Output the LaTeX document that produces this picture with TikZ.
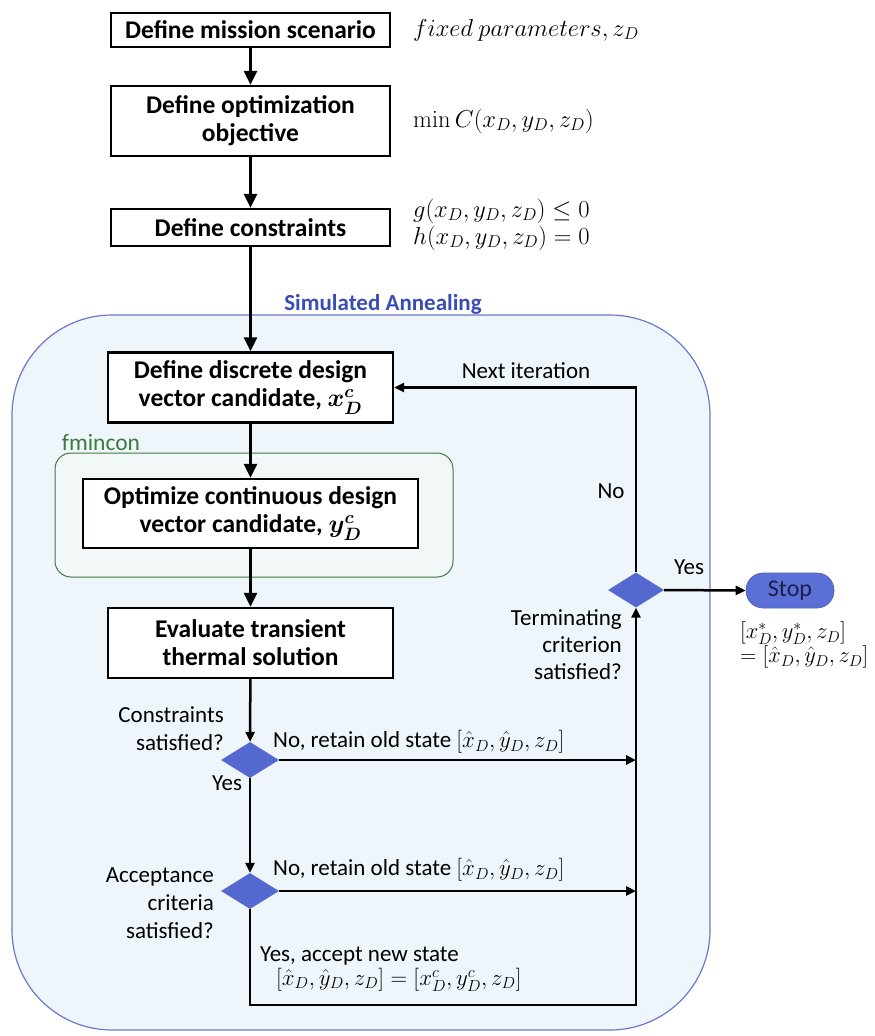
\documentclass[tikz,border=0pt]{standalone}
\usepackage{fix-cm}
\usepackage[no-math]{fontspec}
\setmainfont{Carlito}
\usetikzlibrary{arrows.meta,shapes.geometric}

\definecolor{bgblue}{HTML}{EEF6FB}
\definecolor{frameblue}{HTML}{6E78C8}
\definecolor{annealblue}{HTML}{3A4DB5}
\definecolor{fmgreen}{HTML}{3E7A3E}
\definecolor{fmfill}{HTML}{F2F8F7}
\definecolor{diafill}{HTML}{5468CF}
\definecolor{stopfill}{HTML}{5B6FD6}
\definecolor{stoptext}{HTML}{1B1F4A}

\tikzset{
  flowbox/.style={draw=black, line width=2.4pt, fill=white, align=center,
    inner sep=0pt, font=\bfseries\boldmath\fontsize{25.5}{28}\selectfont},
  decision/.style={diamond, fill=diafill, draw=none, inner sep=0pt,
    minimum width=58pt, minimum height=36pt},
  bigarrow/.style={line width=2.8pt, -{Triangle[length=14pt,width=13pt]}},
  smallarrow/.style={line width=2.5pt, -{Triangle[length=10pt,width=9pt]}},
  lbl/.style={inner sep=0pt, font=\fontsize{23}{28}\selectfont},
  mathlbl/.style={inner sep=0pt, font=\fontsize{24.5}{24}\selectfont},
}

\begin{document}
\begin{tikzpicture}[x=1pt, y=-1pt]
\useasboundingbox (0,0) rectangle (875,1036);

% simulated annealing region
\draw[draw=frameblue, line width=1.2pt, fill=bgblue, rounded corners=100pt]
  (12,315) rectangle (710,1030);
\node[inner sep=0pt, text=annealblue, font=\bfseries\fontsize{23}{24}\selectfont]
  (salabel) at (383,304) {Simulated Annealing};

% fmincon region
\draw[draw=fmgreen, line width=1pt, fill=fmfill, rounded corners=16pt]
  (55,453) rectangle (453,577);
\node[inner sep=0pt, text=fmgreen, font=\fontsize{23.5}{24}\selectfont]
  (fmlabel) at (101,442) {fmincon};

% process boxes
\node[flowbox, minimum width=279pt, minimum height=34pt] (mission) at (250.5,30)
  {Define mission scenario};
\node[flowbox, minimum width=279pt, minimum height=70pt] (objective) at (250.5,121)
  {Define optimization\\objective};
\node[flowbox, minimum width=279pt, minimum height=37pt] (constr) at (250.5,227.5)
  {Define constraints};
\node[flowbox, minimum width=285pt, minimum height=70pt] (discrete) at (250.5,387.5)
  {Define discrete design\\vector candidate, $x_D^c$};
\node[flowbox, minimum width=335pt, minimum height=69pt] (optimize) at (250.5,513.5)
  {Optimize continuous design\\vector candidate, $y_D^c$};
\node[flowbox, minimum width=285pt, minimum height=70pt] (evaluate) at (250.5,643)
  {Evaluate transient\\thermal solution};

% decisions
\node[decision] (consok) at (250,760) {};
\node[decision] (accept) at (250,891) {};
\node[decision, minimum width=56pt, minimum height=35pt] (term) at (636,590) {};

% stop
\node[fill=stopfill, draw=stopfill!85!black, line width=0.6pt, rounded corners=17pt,
  minimum width=88pt, minimum height=35pt, inner sep=0pt, text=stoptext,
  font=\fontsize{24}{26}\selectfont] (stop) at (790,590.5) {Stop};

% junctions on the return line
\coordinate (noA) at (636,760);
\coordinate (noB) at (636,891);
\coordinate (loopend) at (636,1005);

% connectors
\draw[bigarrow] (mission) -- (objective);
\draw[bigarrow] (objective) -- (constr);
\draw[bigarrow] (constr) -- (discrete);
\draw[bigarrow] (discrete) -- (optimize);
\draw[bigarrow] (optimize) -- (evaluate);
\draw[smallarrow] (evaluate) -- (consok);
\draw[smallarrow] (consok) -- (accept);
\draw[smallarrow] (consok.east) -- (noA);
\draw[smallarrow] (accept.east) -- (noB);
\draw[smallarrow] (accept.south) |- (loopend) -- (term.south);
\draw[smallarrow] (term.north) |- (discrete.east);
\draw[smallarrow] (term.east) -- (stop.west);

% side formulas
\node[mathlbl, anchor=west] (fixedlbl) at (413,30) {$fixed\ parameters, z_D$};
\node[mathlbl, anchor=west] (minlbl) at (413,121) {$\min C(x_D, y_D, z_D)$};
\node[mathlbl, anchor=west] (glbl) at (413,211) {$g(x_D, y_D, z_D) \le 0$};
\node[mathlbl, anchor=west] (hlbl) at (413,238) {$h(x_D, y_D, z_D) = 0$};

% connector labels
\node[lbl] (nextlbl) at (526,371) {Next iteration};
\node[lbl] (nolbl) at (611,491) {No};
\node[lbl] (yeslbl) at (689,567) {Yes};
\node[lbl, align=right, anchor=east, font=\fontsize{23}{27}\selectfont] (termlbl) at (622,645)
  {Terminating\\criterion\\satisfied?};
\node[inner sep=0pt, anchor=west, align=left, font=\fontsize{22.5}{24}\selectfont] (result) at (740,645)
  {$[x_D^*, y_D^*, z_D]$\\$= [\hat{x}_D, \hat{y}_D, z_D]$};

\node[lbl, align=right, anchor=east] (conslbl) at (224,729)
  {Constraints\\satisfied?};
\node[lbl, anchor=west] (no1) at (273,742) {No, retain old state $[\hat{x}_D, \hat{y}_D, z_D]$};
\node[lbl] (yes1) at (227,783) {Yes};

\node[lbl, align=right, anchor=east] (acclbl) at (214,903)
  {Acceptance\\criteria\\satisfied?};
\node[lbl, anchor=west] (no2) at (273,870) {No, retain old state $[\hat{x}_D, \hat{y}_D, z_D]$};
\node[lbl, anchor=west, align=left, font=\fontsize{23}{24}\selectfont] (accepted) at (260,969)
  {Yes, accept new state\\\hspace*{16pt}$[\hat{x}_D, \hat{y}_D, z_D] = [x_D^c, y_D^c, z_D]$};
\end{tikzpicture}
\end{document}
